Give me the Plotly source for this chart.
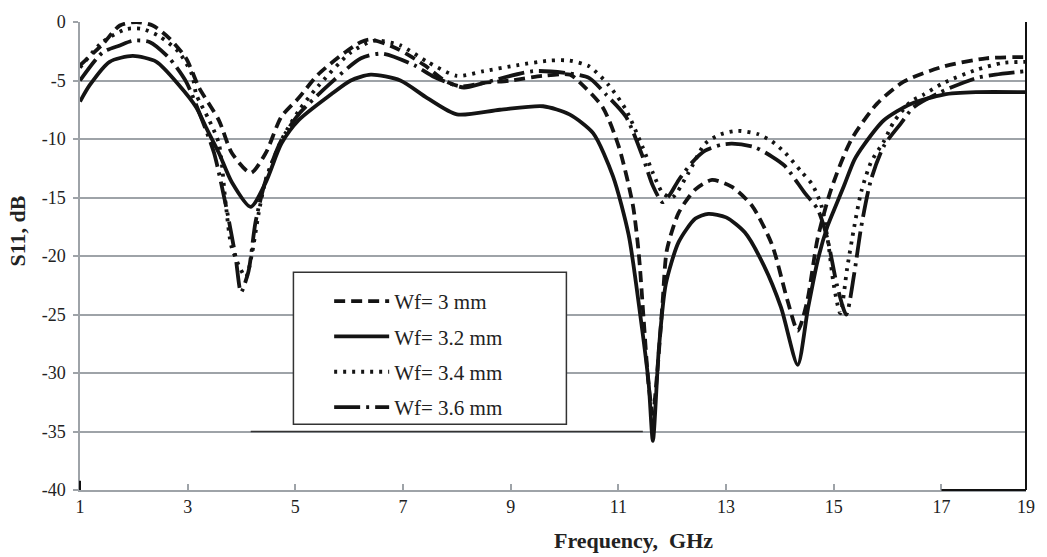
import plotly.graph_objects as go

# ---- data (frequency in GHz, S11 in dB) ----
freq_wf30 = [1.0, 1.42, 1.74, 2.05, 2.35, 2.66, 2.97, 3.21, 3.58, 3.82, 4.17, 4.45, 4.74, 5.06, 5.42, 5.92,
             6.22, 6.40, 6.90, 7.40, 7.77, 8.06, 8.5, 9.0, 9.6, 10.1, 10.27, 10.71, 11.01, 11.27, 11.38,
             11.47, 11.56, 11.64, 11.72, 11.82, 11.90, 12.12, 12.43, 12.74, 13.11, 13.48, 13.85, 14.14,
             14.33, 14.50, 14.70, 14.95, 15.32, 15.80, 16.30, 17.04, 17.83, 18.57]
s11_wf30 = [-3.7, -1.9, -0.3, 0.0, -0.3, -1.4, -3.1, -5.6, -8.4, -11.2, -12.9, -11.2, -8.1, -6.5, -4.5, -2.6,
            -1.7, -1.5, -2.3, -3.7, -5.0, -5.5, -5.2, -5.0, -4.6, -4.5, -5.1, -7.3, -10.7, -15.7, -19.9,
            -25.5, -31.0, -33.5, -30.0, -24.0, -19.5, -16.3, -14.3, -13.5, -14.1, -15.7, -19.0, -23.8,
            -26.4, -24.0, -18.5, -14.3, -10.1, -7.0, -5.1, -3.8, -3.1, -3.0]

freq_wf32 = [1.0, 1.18, 1.55, 1.98, 2.42, 2.84, 3.16, 3.34, 3.58, 3.82, 4.17, 4.45, 4.74, 5.06, 5.66, 6.03,
             6.40, 6.95, 7.45, 8.0, 8.8, 9.6, 10.09, 10.53, 10.90, 11.19, 11.41, 11.56, 11.64, 11.75, 11.88,
             12.12, 12.43, 12.67, 13.0, 13.35, 13.70, 14.02, 14.33, 14.52, 14.70, 14.88, 15.01, 15.19,
             15.38, 15.56, 15.93, 16.43, 17.04, 17.64, 18.57]
s11_wf32 = [-6.8, -5.4, -3.4, -2.9, -3.4, -5.4, -7.3, -9.0, -11.2, -13.7, -15.8, -13.7, -10.4, -8.4, -6.2, -5.0,
            -4.5, -5.0, -6.5, -7.9, -7.5, -7.2, -7.9, -9.5, -13.2, -18.2, -25.2, -30.8, -35.8, -28.0, -22.4,
            -18.8, -16.8, -16.4, -16.7, -18.0, -20.8, -24.4, -29.3, -24.5, -20.4, -17.5, -16.0, -14.0,
            -11.8, -10.5, -8.4, -7.0, -6.2, -6.0, -6.0]

freq_wf34 = [1.0, 1.42, 1.87, 2.16, 2.47, 2.84, 3.08, 3.16, 3.40, 3.58, 3.71, 3.82, 4.08, 4.19, 4.32, 4.45,
             4.74, 5.06, 5.42, 6.03, 6.47, 6.95, 7.45, 8.0, 8.5, 9.11, 9.72, 10.09, 10.46, 10.82, 11.14,
             11.45, 11.64, 11.82, 12.0, 12.30, 12.61, 12.9, 13.22, 13.6, 13.85, 14.10, 14.40, 14.60, 14.77,
             14.90, 15.0, 15.12, 15.25, 15.38, 15.51, 15.69, 15.93, 16.12, 16.43, 16.67, 17.04, 17.64,
             18.14, 18.57]
s11_wf34 = [-3.9, -1.7, -0.6, -0.6, -1.2, -2.6, -4.5, -6.2, -8.4, -10.4, -15.7, -19.3, -21.8, -19.9, -16.3,
            -13.5, -10.1, -7.6, -5.5, -2.6, -1.6, -2.0, -3.4, -4.6, -4.2, -3.7, -3.3, -3.3, -3.8, -5.4, -7.5,
            -10.7, -12.9, -14.6, -15.0, -12.9, -10.4, -9.6, -9.3, -9.6, -10.2, -11.2, -12.8, -13.9, -15.7,
            -19.0, -22.5, -24.9, -21.0, -17.5, -14.5, -12.0, -10.2, -8.5, -6.8, -6.2, -5.2, -4.1,
            -3.5, -3.4]

freq_wf36 = [1.0, 1.42, 1.74, 1.98, 2.29, 2.66, 2.97, 3.27, 3.49, 3.71, 3.89, 3.99, 4.13, 4.26, 4.45, 4.74,
             5.06, 5.66, 6.22, 6.62, 7.21, 7.58, 8.13, 8.5, 9.42, 10.09, 10.46, 10.77, 11.14, 11.45, 11.64,
             11.82, 11.95, 12.12, 12.37, 12.61, 12.9, 13.11, 13.53, 13.85, 14.09, 14.46, 14.70, 14.88,
             15.06, 15.23, 15.38, 15.51, 15.69, 15.93, 16.24, 16.48, 16.98, 17.64, 18.0, 18.57]
s11_wf36 = [-5.0, -2.6, -2.0, -1.6, -1.7, -3.1, -5.1, -8.4, -11.2, -15.7, -20.1, -23.1, -21.3, -17.1, -13.5,
            -10.1, -7.9, -5.2, -3.1, -2.7, -3.7, -4.7, -5.6, -5.2, -4.2, -4.4, -4.8, -6.2, -8.1, -11.5, -14.0,
            -15.4, -14.8, -13.5, -12.0, -11.0, -10.5, -10.4, -10.7, -11.5, -12.3, -14.6, -16.0, -18.5,
            -22.5, -25.0, -21.5, -17.5, -13.5, -10.6, -8.7, -7.3, -6.0, -4.8, -4.5, -4.2]

series_names = ["Wf= 3 mm", "Wf= 3.2 mm", "Wf= 3.4 mm", "Wf= 3.6 mm"]

x_tick_vals = [1, 3, 5, 7, 9, 11, 13, 15, 17, 18.57]
x_tick_text = ["1", "3", "5", "7", "9", "11", "13", "15", "17", "19"]
y_tick_vals = [0, -5, -10, -15, -20, -25, -30, -35, -40]
y_tick_text = ["0", "-5", "-10", "-15", "-20", "-25", "-30", "-35", "-40"]

# ---- styling ----
INK = "#141414"
GRID = "#9ea3a8"
dashes = ["11px,6px", "solid", "3px,6px", "26px,6px,3px,6px"]
xs = [freq_wf30, freq_wf32, freq_wf34, freq_wf36]
ys = [s11_wf30, s11_wf32, s11_wf34, s11_wf36]

fig = go.Figure()
for i, (x, y) in enumerate(zip(xs, ys)):
    fig.add_trace(go.Scatter(
        x=x, y=y, mode="lines", name=series_names[i], legendgroup=f"g{i}",
        line=dict(color=INK, width=3.8, dash=dashes[i], shape="spline", smoothing=0.7),
        hoverinfo="skip",
    ))

x0, x1 = x_tick_vals[0], x_tick_vals[-1]
serif = "Liberation Serif"

fig.update_layout(
    width=1047, height=557,
    margin=dict(l=80, r=14, t=13, b=67),
    paper_bgcolor="white", plot_bgcolor="white",
    font=dict(family=serif, color="#222"),
    showlegend=True,
    legend=dict(
        x=(331 - 80) / 953, y=(490 - 277) / 477, xanchor="left", yanchor="top",
        bgcolor="rgba(0,0,0,0)", borderwidth=0,
        font=dict(family=serif, size=21, color="#222"),
        itemwidth=55, tracegroupgap=5,
    ),
    xaxis=dict(
        range=[x0, x1], tickvals=x_tick_vals, ticktext=x_tick_text,
        showgrid=False, zeroline=False,
        showline=True, linecolor=GRID, linewidth=1.5,
        ticks="inside", ticklen=6, tickcolor=GRID, tickwidth=1.5,
        tickfont=dict(family=serif, size=18, color="#222"),
    ),
    yaxis=dict(
        range=[-40, 0], tickvals=y_tick_vals, ticktext=y_tick_text,
        showgrid=True, gridcolor=GRID, gridwidth=1.5, zeroline=False,
        showline=True, linecolor=GRID, linewidth=1.5,
        ticks="outside", ticklen=5, tickcolor=GRID, tickwidth=1.5,
        tickfont=dict(family=serif, size=18, color="#222"),
        ticklabelstandoff=4,
    ),
    annotations=[
        dict(text="S11, dB", textangle=-90, xref="paper", yref="paper",
             x=(18 - 80) / 953, y=(490 - 226) / 477, xanchor="center", yanchor="middle",
             showarrow=False, font=dict(family=serif, size=22, color="#222", weight="bold")),
        dict(text="Frequency,  GHz", xref="paper", yref="paper",
             x=(638 - 80) / 953, y=(490 - 541) / 477, xanchor="center", yanchor="middle",
             showarrow=False, font=dict(family=serif, size=22, color="#222", weight="bold")),
    ],
    shapes=[
        # legend frame (white fill hides the grid behind it)
        dict(type="rect", xref="paper", yref="paper",
             x0=(295 - 80) / 953, x1=(570 - 80) / 953, y0=(490 - 423) / 477, y1=(490 - 268) / 477,
             line=dict(color="#333", width=1.5), fillcolor="white", layer="above"),
        # dark segment along the -35 dB grid line
        dict(type="line", xref="paper", yref="y",
             x0=(252 - 80) / 953, x1=(647 - 80) / 953, y0=-35, y1=-35,
             line=dict(color="#333", width=1.5), layer="above"),
        # right border
        dict(type="line", xref="paper", yref="paper", x0=1, x1=1, y0=0, y1=1,
             line=dict(color="#111", width=2)),
        # dark bottom axis segment 17–19
        dict(type="line", xref="x", yref="paper", x0=17, x1=x1, y0=0, y1=0,
             line=dict(color="#111", width=2)),
        # dark stub at bottom of left axis
        dict(type="line", xref="paper", yref="y", x0=0, x1=0, y0=-40, y1=-39.2,
             line=dict(color="#111", width=2)),
    ],
)

fig.write_html("out.html")
